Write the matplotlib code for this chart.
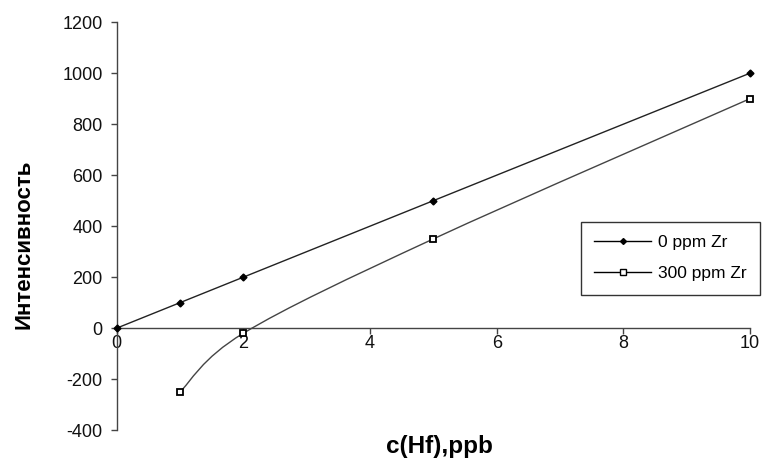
import matplotlib
matplotlib.use("Agg")
import matplotlib.pyplot as plt
from matplotlib.path import Path
from matplotlib.patches import PathPatch
from matplotlib.lines import Line2D

plt.rcParams['font.family'] = ['Liberation Sans', 'DejaVu Sans']
plt.rcParams['axes.unicode_minus'] = False

# 0 ppm Zr
x0 = [0, 1, 2, 5, 10]
y0 = [0, 100, 200, 500, 1000]
# 300 ppm Zr
x300 = [1, 2, 5, 10]
y300 = [-250, -20, 350, 900]

xticks = [0, 2, 4, 6, 8, 10]
yticks = [-400, -200, 0, 200, 400, 600, 800, 1000, 1200]


def smooth_path(xs, ys):
    # Excel-like smoothed line: cubic Bezier through the points
    pts = list(zip(xs, ys))
    verts = [pts[0]]
    codes = [Path.MOVETO]
    n = len(pts)
    for i in range(n - 1):
        p0 = pts[i - 1] if i > 0 else pts[i]
        p1 = pts[i]
        p2 = pts[i + 1]
        p3 = pts[i + 2] if i + 2 < n else pts[i + 1]
        c1 = (p1[0] + (p2[0] - p0[0]) / 6, p1[1] + (p2[1] - p0[1]) / 6)
        c2 = (p2[0] - (p3[0] - p1[0]) / 6, p2[1] - (p3[1] - p1[1]) / 6)
        verts += [c1, c2, p2]
        codes += [Path.CURVE4] * 3
    return Path(verts, codes)


fig = plt.figure(figsize=(7.63, 4.62), dpi=100)
ax = fig.add_axes([0.153, 0.069, 0.830, 0.883])

ax.plot(x0, y0, color='#222222', lw=1, marker='D', ms=3.5,
        mfc='black', mec='black', zorder=3, clip_on=False)
ax.add_patch(PathPatch(smooth_path(x300, y300), fill=False,
                       edgecolor='#444444', lw=1, zorder=2))
ax.plot(x300, y300, ls='none', marker='s', ms=5, mfc='white',
        mec='black', mew=1.3, zorder=4, clip_on=False)

ax.set_xlim(0, 10)
ax.set_ylim(-400, 1200)
ax.set_xticks(xticks)
ax.set_yticks(yticks)

ax.spines['top'].set_visible(False)
ax.spines['right'].set_visible(False)
ax.spines['bottom'].set_position(('data', 0))
for s in ['left', 'bottom']:
    ax.spines[s].set_color('#444444')
    ax.spines[s].set_linewidth(1)
ax.tick_params(axis='both', direction='out', length=4, width=1,
               color='#444444', labelsize=13, labelcolor='#111111')
ax.tick_params(axis='x', pad=1)
ax.tick_params(axis='y', pad=6)

ax.set_xlabel('c(Hf),ppb', fontsize=17.5, fontweight='bold')
ax.xaxis.set_label_coords(0.51, -0.012)
ax.set_ylabel('Интенсивность', fontsize=16, fontweight='bold')
ax.yaxis.set_label_coords(-0.13, 0.455)

handles = [
    Line2D([], [], color='black', lw=1, marker='D', ms=3),
    Line2D([], [], color='black', lw=1, marker='s', ms=4, mfc='white',
           mec='black'),
]
leg = ax.legend(handles, ['0 ppm Zr', '300 ppm Zr'],
                loc='upper left', bbox_to_anchor=(0.733, 0.511),
                fontsize=12.5, frameon=True, fancybox=False,
                edgecolor='black', handlelength=3.3, labelspacing=0.95,
                borderpad=0.75, handletextpad=0.4, borderaxespad=0)
leg.get_frame().set_linewidth(1)

fig.savefig('out.png', dpi=100)
